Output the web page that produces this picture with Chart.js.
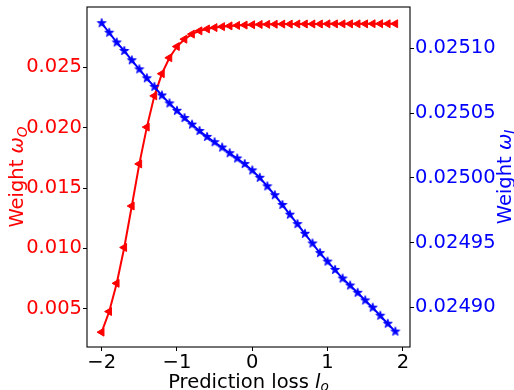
<!DOCTYPE html>
<html>
<head>
<meta charset="utf-8">
<script src="https://cdn.jsdelivr.net/npm/chart.js@4/dist/chart.umd.min.js"></script>
<style>
  html, body { margin: 0; padding: 0; background: #ffffff; }
  #wrap { width: 514px; height: 390px; }
</style>
</head>
<body>
<div id="wrap"><canvas id="c" width="514" height="390"></canvas></div>
<script>
// ---- data ----
const lossValues = [-2.0,-1.9,-1.8,-1.7,-1.6,-1.5,-1.4,-1.3,-1.2,-1.1,-1.0,-0.9,-0.8,-0.7,-0.6,-0.5,-0.4,-0.3,-0.2,-0.1,
                    0.0,0.1,0.2,0.3,0.4,0.5,0.6,0.7,0.8,0.9,1.0,1.1,1.2,1.3,1.4,1.5,1.6,1.7,1.8,1.9];
const weightO = [0.00305,0.00476,0.00710,0.01007,0.01351,0.01700,0.02005,0.02264,0.02448,0.02580,
                 0.02673,0.02734,0.02776,0.02803,0.02819,0.02830,0.02838,0.02844,0.02848,0.02851,
                 0.02854,0.02856,0.02857,0.02858,0.02859,0.02859,0.02860,0.02860,0.02860,0.02860,
                 0.02861,0.02861,0.02861,0.02861,0.02861,0.02861,0.02862,0.02862,0.02862,0.02862];
const weightI = [0.0251195,0.0251121,0.0251046,0.0250980,0.0250908,0.0250838,0.0250769,0.0250703,0.0250636,0.0250575,
                 0.0250518,0.0250462,0.0250411,0.0250362,0.0250316,0.0250275,0.0250234,0.0250190,0.0250149,0.0250106,
                 0.0250057,0.0250000,0.0249934,0.0249865,0.0249790,0.0249715,0.0249642,0.0249567,0.0249492,0.0249418,
                 0.0249352,0.0249288,0.0249221,0.0249167,0.0249111,0.0249052,0.0248996,0.0248934,0.0248872,0.0248811];
const xTicks = [-2, -1, 0, 1, 2];
const leftTicks = [0.005, 0.010, 0.015, 0.020, 0.025];
const rightTicks = [0.02490, 0.02495, 0.02500, 0.02505, 0.02510];
const xTitle = ["Prediction loss ", "l", "o"];
const leftTitle = ["Weight ", "ω", "O"];
const rightTitle = ["Weight ", "ω", "I"];

// ---- styles ----
const FONT = '"DejaVu Sans", sans-serif';
const FS = 19.5;
const RED = '#ff0000', BLUE = '#0000ff';

function makeStar(color, R) {
  const s = Math.ceil(2 * R + 4);
  const c = document.createElement('canvas');
  c.width = s; c.height = s;
  const g = c.getContext('2d');
  const cx = s / 2, cy = s / 2, r = R * 0.381966;
  g.beginPath();
  for (let i = 0; i < 10; i++) {
    const a = -Math.PI / 2 + i * Math.PI / 5;
    const rr = (i % 2) ? r : R;
    g.lineTo(cx + rr * Math.cos(a), cy + rr * Math.sin(a));
  }
  g.closePath();
  g.fillStyle = color; g.fill();
  g.lineWidth = 1; g.strokeStyle = color; g.stroke();
  return c;
}
const starImg = makeStar(BLUE, 4.6);

function fmtMinus(v, d) {
  const s = Math.abs(v).toFixed(d);
  return (v < 0 ? '\u2212' : '') + s;
}

// draw a label made of [normal, italic, italic-subscript]
function drawMathLabel(ctx, parts, color) {
  const fN = FS + 'px ' + FONT, fI = 'italic ' + FS + 'px ' + FONT, fS = 'italic ' + (FS * 0.7) + 'px ' + FONT;
  ctx.font = fN; const w0 = ctx.measureText(parts[0]).width;
  ctx.font = fI; const w1 = ctx.measureText(parts[1]).width;
  ctx.font = fS; const w2 = ctx.measureText(parts[2]).width;
  const tot = w0 + w1 + w2;
  let x = -tot / 2;
  ctx.fillStyle = color;
  ctx.textBaseline = 'alphabetic';
  ctx.textAlign = 'left';
  ctx.font = fN; ctx.fillText(parts[0], x, 0); x += w0;
  ctx.font = fI; ctx.fillText(parts[1], x, 0); x += w1;
  ctx.font = fS; ctx.fillText(parts[2], x, FS * 0.2);
}

const decor = {
  id: 'decor',
  afterDatasetsDraw(chart) {
    const ctx = chart.ctx, a = chart.chartArea;
    ctx.save();
    ctx.strokeStyle = '#000000';
    ctx.lineWidth = 1.1;
    ctx.strokeRect(a.left, a.top, a.right - a.left, a.bottom - a.top);
    ctx.restore();
  },
  afterDraw(chart) {
    const ctx = chart.ctx, a = chart.chartArea;
    const cy = (a.top + a.bottom) / 2;
    ctx.save();
    ctx.translate((a.left + a.right) / 2, 387.5);
    drawMathLabel(ctx, xTitle, '#000000');
    ctx.restore();
    ctx.save();
    ctx.translate(23, cy);
    ctx.rotate(-Math.PI / 2);
    drawMathLabel(ctx, leftTitle, RED);
    ctx.restore();
    ctx.save();
    ctx.translate(510.5, cy);
    ctx.rotate(-Math.PI / 2);
    drawMathLabel(ctx, rightTitle, BLUE);
    ctx.restore();
  }
};

function zeroPad(s) { s.paddingTop = 0; s.paddingBottom = 0; s.paddingLeft = 0; s.paddingRight = 0; }

const redPts = lossValues.map((x, i) => ({ x: x, y: weightO[i] }));
const bluePts = lossValues.map((x, i) => ({ x: x, y: weightI[i] }));

new Chart(document.getElementById('c'), {
  type: 'line',
  data: {
    datasets: [
      {
        label: 'Weight ωI',
        data: bluePts,
        yAxisID: 'y1',
        borderColor: BLUE,
        backgroundColor: BLUE,
        borderWidth: 2,
        pointStyle: starImg,
        pointRadius: 5,
        order: 0,
        tension: 0
      },
      {
        label: 'Weight ωO',
        data: redPts,
        yAxisID: 'y',
        borderColor: RED,
        backgroundColor: RED,
        borderWidth: 2,
        pointStyle: 'triangle',
        pointRotation: -90,
        pointRadius: 4.6,
        pointBorderWidth: 1,
        pointBackgroundColor: RED,
        pointBorderColor: RED,
        order: 1,
        tension: 0
      }
    ]
  },
  options: {
    responsive: false,
    animation: false,
    events: [],
    layout: { padding: { top: 5, left: 0, right: 0, bottom: 0 } },
    plugins: { legend: { display: false }, tooltip: { enabled: false } },
    scales: {
      x: {
        type: 'linear',
        min: -2.195, max: 2.095,
        afterBuildTicks(s) { s.ticks = xTicks.map(v => ({ value: v })); },
        afterFit(s) { s.height = 43; zeroPad(s); },
        grid: { drawOnChartArea: false, tickLength: 4, tickColor: '#000000', tickWidth: 1 },
        border: { display: false },
        ticks: {
          color: '#000000', padding: 0, maxRotation: 0,
          font: { family: FONT, size: FS },
          callback: v => fmtMinus(v, 0)
        }
      },
      y: {
        type: 'linear', position: 'left',
        min: 0.00182, max: 0.030008,
        afterBuildTicks(s) { s.ticks = leftTicks.map(v => ({ value: v })); },
        afterFit(s) { s.width = 87; zeroPad(s); },
        grid: { drawOnChartArea: false, tickLength: 4, tickColor: '#000000', tickWidth: 1 },
        border: { display: false },
        ticks: {
          color: RED, padding: 1,
          font: { family: FONT, size: FS },
          callback: v => fmtMinus(v, 3)
        }
      },
      y1: {
        type: 'linear', position: 'right',
        min: 0.0248692, max: 0.025132,
        afterBuildTicks(s) { s.ticks = rightTicks.map(v => ({ value: v })); },
        afterFit(s) { s.width = 104; zeroPad(s); },
        grid: { drawOnChartArea: false, tickLength: 4, tickColor: '#000000', tickWidth: 1 },
        border: { display: false },
        ticks: {
          color: BLUE, padding: 1,
          font: { family: FONT, size: FS },
          callback: v => fmtMinus(v, 5)
        }
      }
    }
  },
  plugins: [decor]
});
</script>
</body>
</html>
